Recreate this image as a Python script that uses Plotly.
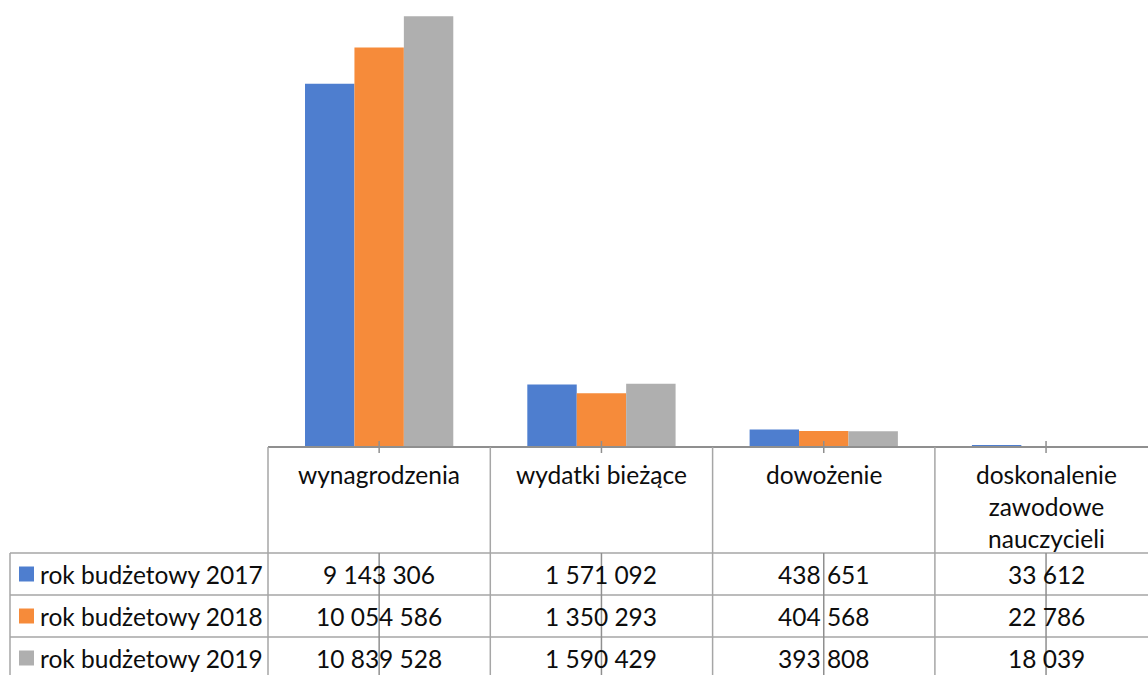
import plotly.graph_objects as go

categories = ['wynagrodzenia', 'wydatki bieżące', 'dowożenie',
              'doskonalenie<br>zawodowe<br>nauczycieli']
series_names = ['rok budżetowy 2017', 'rok budżetowy 2018', 'rok budżetowy 2019']
values_2017 = [9143306, 1571092, 438651, 33612]
values_2018 = [10054586, 1350293, 404568, 22786]
values_2019 = [10839528, 1590429, 393808, 18039]
colors = ['#4E7ECF', '#F68B3A', '#AFAFAF']

series_values = [values_2017, values_2018, values_2019]

# pixel layout of the plot area (the chart is cropped on the right and top)
W, H = 1148, 675
PL, PR, PT, PB = 268, 1148, 0, 447
CAT_W = 222.3
LINE = '#A6A6A6'
FONT = 'Lato'
FSIZE = 24.5
TXT = '#0D0D0D'


def px(x):
    return (x - PL) / (PR - PL)


def py(y):
    return (PB - y) / (PB - PT)


def fmt(v):
    return f'{v:,}'.replace(',', ' ')


fig = go.Figure()
for name, vals, col in zip(series_names, series_values, colors):
    fig.add_trace(go.Bar(
        x=list(range(len(categories))), y=vals, name=name,
        marker=dict(color=col, line=dict(width=0)),
        hoverinfo='y+name',
    ))

shapes = []


def hline(y, x0, x1, w=1.5, c=LINE):
    shapes.append(dict(type='line', xref='paper', yref='paper',
                       x0=px(x0), x1=px(x1), y0=py(y), y1=py(y),
                       line=dict(color=c, width=w)))


def vline(x, y0, y1, w=1.5, c=LINE):
    shapes.append(dict(type='line', xref='paper', yref='paper',
                       x0=px(x), x1=px(x), y0=py(y0), y1=py(y1),
                       line=dict(color=c, width=w)))


# axis line
hline(PB, PL, PR + 20, w=2, c='#8F8F8F')

row_tops = [553, 595, 637]
row_h = 42

# table grid
for i in range(len(categories) + 1):
    xb = PL + i * CAT_W
    if xb <= W + 5:
        vline(xb, PB, H + 5)
vline(10, row_tops[0], H + 5)
for y in row_tops:
    hline(y, 10, W + 20)

# odd category-center ticks that run through the table
for i in range(len(categories)):
    xc = PL + (i + 0.5) * CAT_W
    vline(xc, 441, 453, c='#8F8F8F')
    vline(xc, row_tops[0], H + 5, c='#8F8F8F')

annotations = []
# header labels
for i, cat in enumerate(categories):
    annotations.append(dict(
        x=i, xref='x', y=py(458), yref='paper', yanchor='top',
        text=cat, showarrow=False, align='center',
        font=dict(family=FONT, size=FSIZE, color=TXT),
    ))

# legend keys and value rows
for r, (name, vals, col) in enumerate(zip(series_names, series_values, colors)):
    yc = row_tops[r] + row_h / 2
    shapes.append(dict(type='rect', xref='paper', yref='paper',
                       x0=px(19), x1=px(34), y0=py(yc - 7.5), y1=py(yc + 7.5),
                       fillcolor=col, line=dict(width=0)))
    annotations.append(dict(
        x=px(38), xref='paper', y=py(yc), yref='paper',
        xanchor='left', yanchor='middle', text=name, showarrow=False,
        font=dict(family=FONT, size=FSIZE, color=TXT),
    ))
    for i, v in enumerate(vals):
        annotations.append(dict(
            x=i, xref='x', y=py(yc), yref='paper', yanchor='middle',
            text=fmt(v), showarrow=False,
            font=dict(family=FONT, size=FSIZE, color=TXT),
        ))

fig.update_layout(
    width=W, height=H,
    margin=dict(l=PL, r=W - PR, t=PT, b=H - PB, pad=0),
    paper_bgcolor='white', plot_bgcolor='white',
    barmode='group', bargap=0.333, bargroupgap=0,
    showlegend=False,
    xaxis=dict(range=[-0.5, -0.5 + (PR - PL) / CAT_W], showticklabels=False,
               showgrid=False, zeroline=False, showline=False, ticks=''),
    yaxis=dict(range=[0, (PB - PT) * 25170], visible=False, showgrid=False),
    shapes=shapes,
    annotations=annotations,
    font=dict(family=FONT),
)

# drop the default 8px page margin so the figure sits at the window's corner
fig.write_html('out.html', config={'displayModeBar': False},
               post_script="document.body.style.margin='0';document.body.style.overflow='hidden';")
